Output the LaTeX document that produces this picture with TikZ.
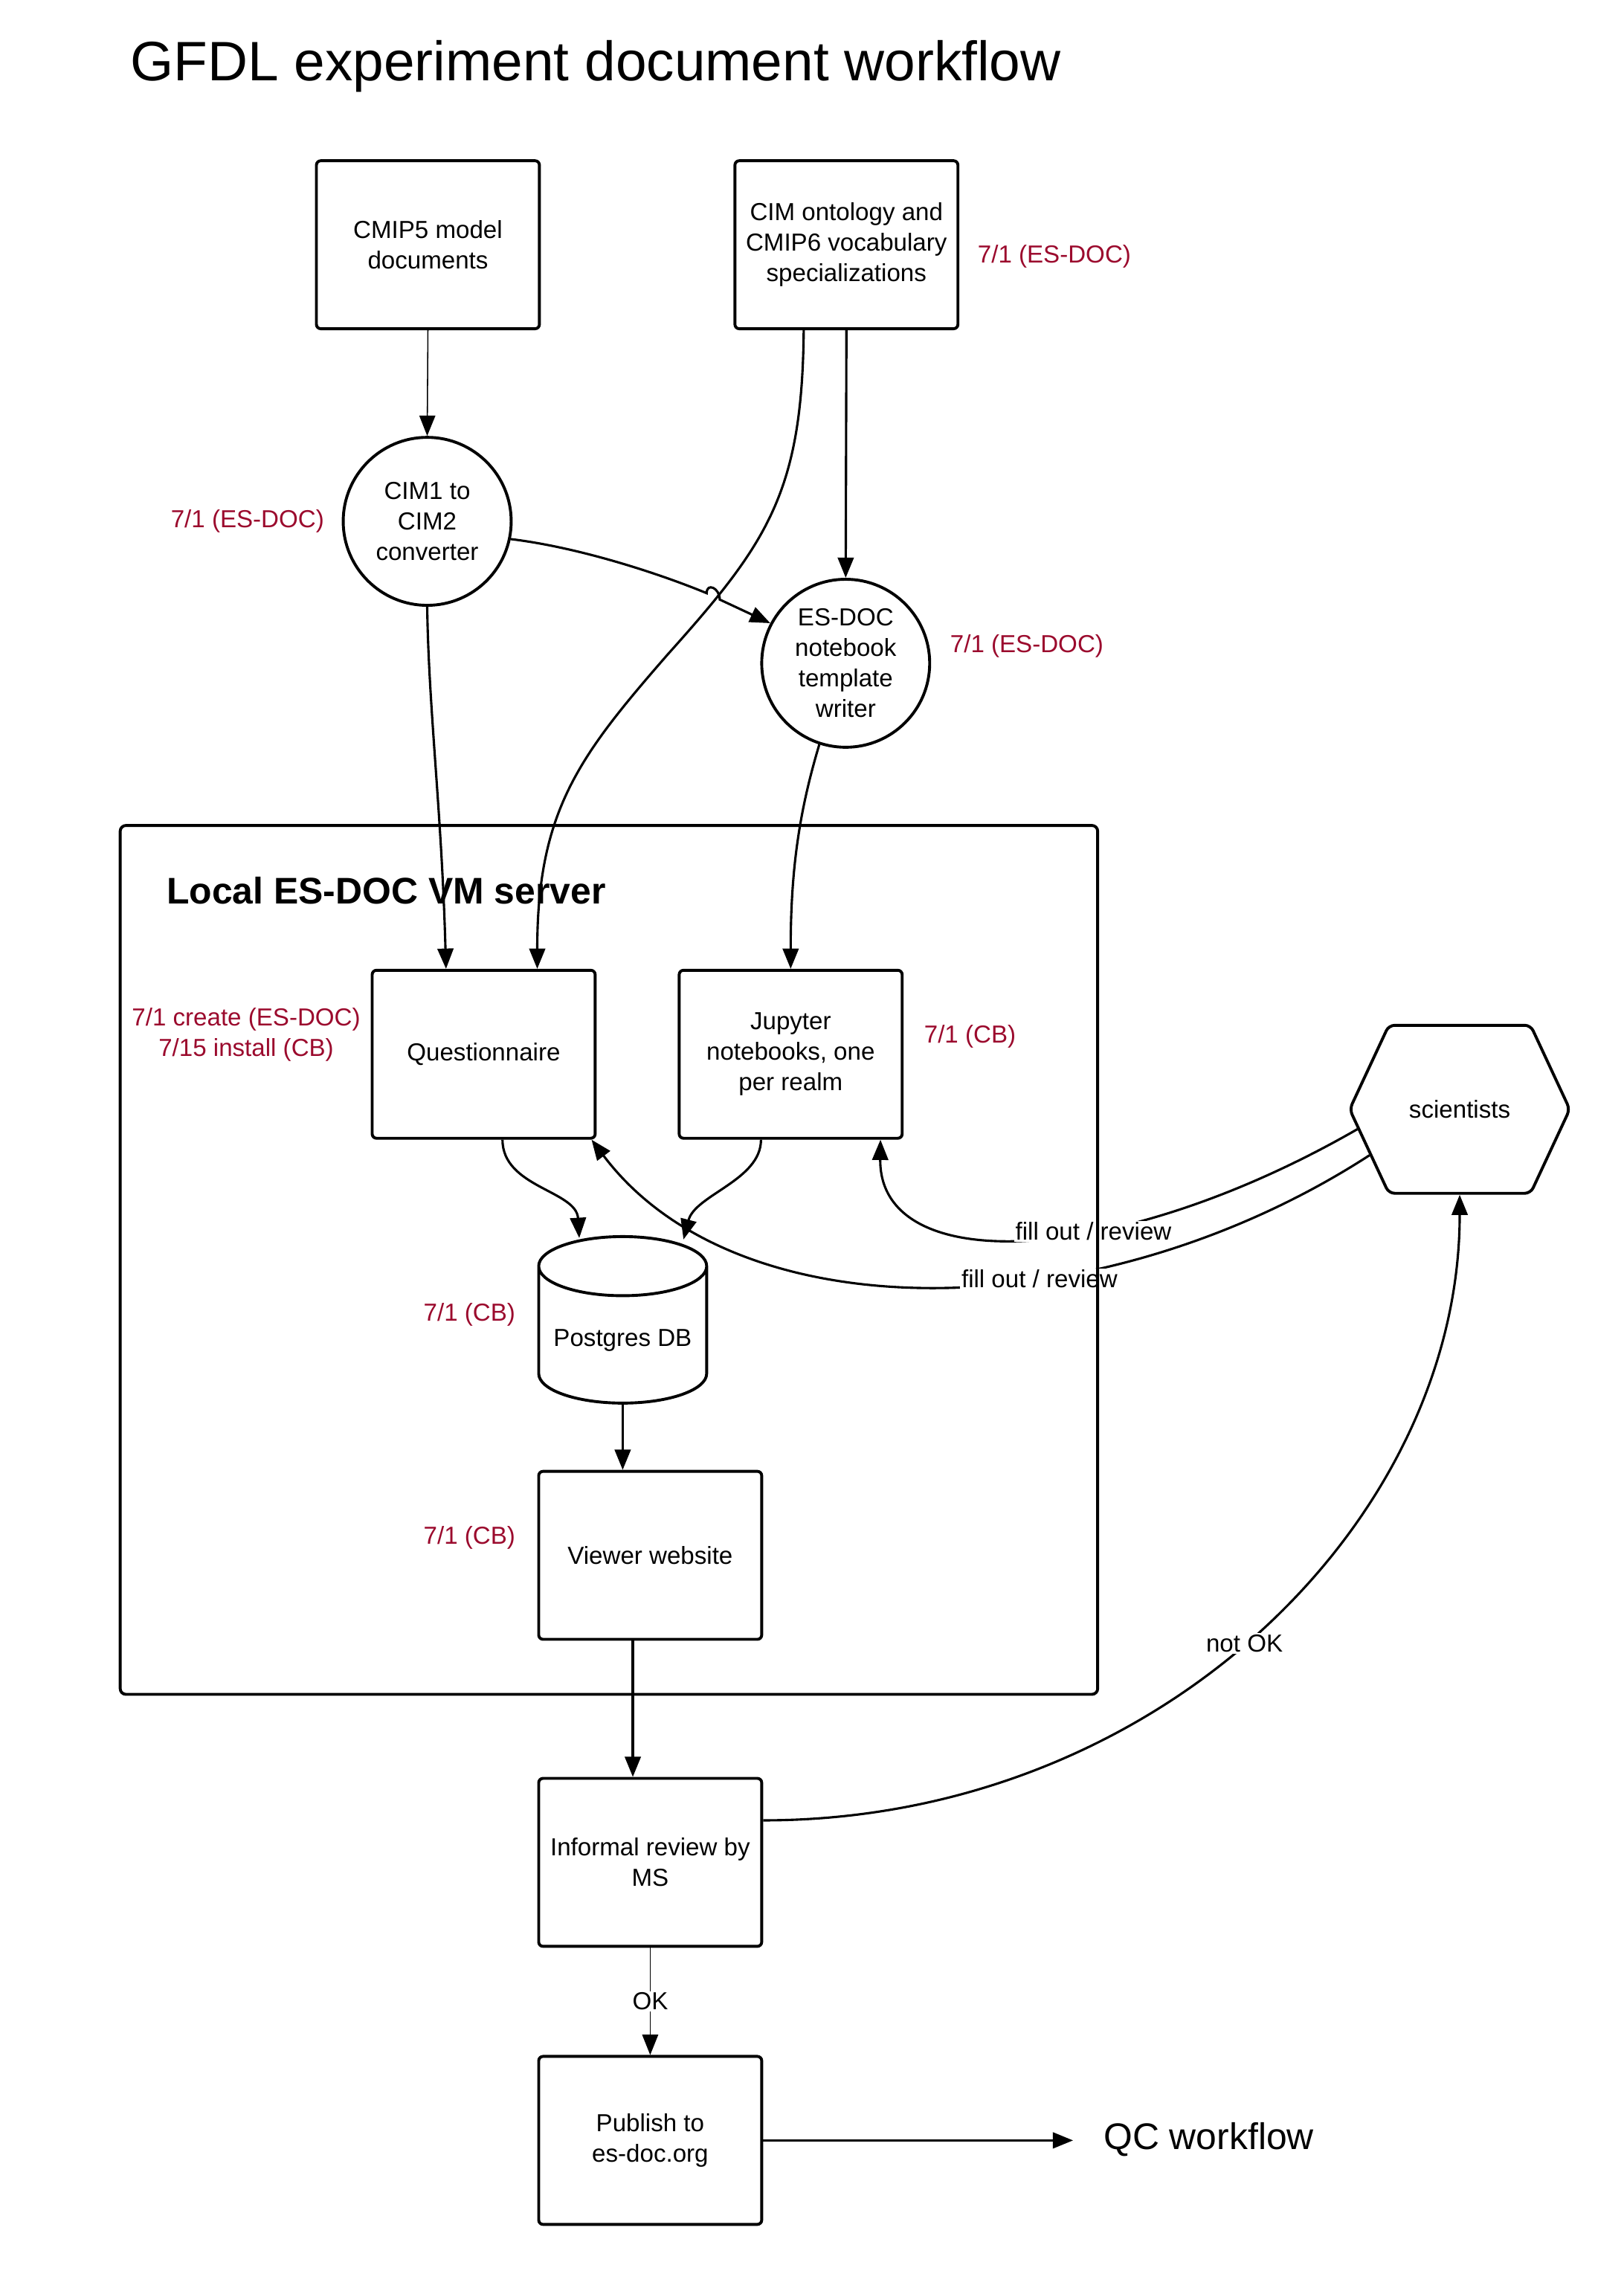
\documentclass[tikz,border=0pt]{standalone}
\usepackage{fontspec}
\setmainfont{Liberation Sans}
\usepackage{tikz}
\usetikzlibrary{shapes, shapes.geometric, shapes.symbols, arrows.meta}

\definecolor{dateRed}{RGB}{155,10,45}

\begin{document}
\begin{tikzpicture}[
    x=1pt, y=-1pt,
    stepBox/.style={draw, line width=2pt, rounded corners=3pt, minimum width=154pt, minimum height=116pt, align=center, inner sep=2pt},
    procCircle/.style={draw, circle, line width=2pt, minimum size=116pt, align=center, inner sep=0pt},
    dateLabel/.style={text=dateRed, inner sep=0pt},
    flow/.style={line width=1.6pt, -{Triangle[length=14pt, width=11pt]}},
    thinFlow/.style={line width=0.8pt, -{Triangle[length=14pt, width=11pt]}},
    edgeLabel/.style={fill=white, inner sep=1pt},
    every node/.style={
        text centered,
        font=\fontsize{17}{21}\selectfont,
        }
        ]
    \useasboundingbox (0,0) rectangle (1121,1568.2);

    \node[anchor=base west, inner sep=0pt, font=\fontsize{38.4}{46}\selectfont] (title) at (90,55.5) {GFDL experiment document workflow};

    \node[stepBox] (cmip5) at (295.5,169) {CMIP5 model\\documents};
    \node[stepBox] (cim) at (584.5,169) {CIM ontology and\\CMIP6 vocabulary\\specializations};
    \node[procCircle] (cim1) at (295,360) {CIM1 to\\CIM2\\converter};
    \node[procCircle] (esdoc) at (584,458) {ES-DOC\\notebook\\template\\writer};

    \node[anchor=base west, inner sep=0pt, font=\fontsize{25.6}{30}\selectfont\bfseries] (vmTitle) at (115,624) {Local ES-DOC VM server};
    \node[stepBox] (qn) at (334,728) {Questionnaire};
    \node[stepBox] (jup) at (546,728) {Jupyter\\notebooks, one\\per realm};
    \node[draw, cylinder, shape border rotate=90, aspect=0.4, line width=2pt, minimum width=116pt, minimum height=115pt] (pg) at (430,925.5) {Postgres DB};
    \node[stepBox] (viewer) at (449,1074) {Viewer website};
    \node[stepBox] (review) at (449,1286) {Informal review by\\MS};
    \node[stepBox] (publish) at (449,1478) {Publish to\\es-doc.org};
    \node[draw, signal, signal to=west and east, signal pointer angle=130, line width=2pt, rounded corners=4pt, minimum width=152pt, minimum height=116pt] (sci) at (1008,766) {scientists};

    \node[anchor=base west, inner sep=0pt, font=\fontsize{25.6}{30}\selectfont] (qc) at (762,1484) {QC workflow};
    \coordinate (qcIn) at (741,1478);

    % dates
    \node[dateLabel, anchor=west] (cimDate) at (675,177) {7/1 (ES-DOC)};
    \node[dateLabel, anchor=east] (cim1Date) at (224,360) {7/1 (ES-DOC)};
    \node[dateLabel, anchor=west] (esdocDate) at (656,446) {7/1 (ES-DOC)};
    \node[dateLabel, align=center] (qnDate) at (170,714.5) {7/1 create (ES-DOC)\\7/15 install (CB)};
    \node[dateLabel, anchor=west] (jupDate) at (638,716) {7/1 (CB)};
    \node[dateLabel, anchor=east] (pgDate) at (356,908) {7/1 (CB)};
    \node[dateLabel, anchor=east] (viewerDate) at (356,1062) {7/1 (CB)};

    \draw[thinFlow] (cmip5.south) -- (cim1.north);
    \draw[flow] (cim.south) -- (esdoc.north);
    \draw[flow] ([xshift=-29.5pt]cim.south) .. controls (554,340) and (530,375) .. (461,452) .. controls (400,522) and (371,560) .. ([xshift=37pt]qn.north);
    \draw[flow] (cim1.-12) .. controls (400,378) and (455,396) .. (488,409.6) .. controls (488,402) and (497,406) .. (497,414) -- (esdoc.152);
    \draw[flow] (cim1.south) .. controls (296,490) and (305,560) .. ([xshift=-26pt]qn.north);
    \draw[flow] (esdoc.252) .. controls (552,560) and (546,600) .. (jup.north);

    \draw[flow] ([xshift=13pt]qn.south) .. controls (347,820) and (398,822) .. ([xshift=-30pt,yshift=-2pt]pg.north);
    \draw[flow] ([xshift=-20.5pt]jup.south) .. controls (525.5,815) and (480,825) .. ([xshift=42pt,yshift=-3pt]pg.north);

    \draw[flow] (sci.191) .. controls (770,876) and (607,882) .. ([xshift=-16pt]jup.south east) node[edgeLabel, pos=0.385] (fillJup) {fill out / review};
    \draw[flow] (sci.207) .. controls (760,918) and (510,922) .. ([xshift=-3.5pt]qn.south east) node[edgeLabel, pos=0.38] (fillQn) {fill out / review};

    \draw[flow] (pg.south) -- (pg.south |- viewer.north);
    \draw[flow] ([xshift=-12pt]viewer.south) -- ([xshift=-12pt]review.north);
    \draw[thinFlow] (review.south) -- (publish.north) node[edgeLabel, midway] (ok) {OK};
    \draw[flow] ([yshift=29pt]review.east) .. controls (800,1257) and (1008,1050) .. (sci.south) node[edgeLabel, pos=0.48] (notOk) {not OK};
    \draw[flow] (publish.east) -- (qcIn);

    \node[draw, line width=2pt, rounded corners=4pt, minimum width=675pt, minimum height=600pt] (vm) at (420.5,870) {};
\end{tikzpicture}
\end{document}
